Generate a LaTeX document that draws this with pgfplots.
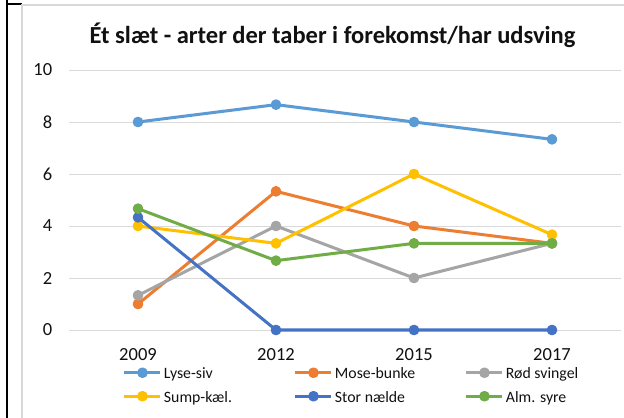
\documentclass[border=0pt]{standalone}
\usepackage{fontspec}
\setmainfont{Carlito}
\usepackage{pgfplots}
\pgfplotsset{compat=1.18}
\definecolor{cLyse}{HTML}{5B9BD5}
\definecolor{cMose}{HTML}{ED7D31}
\definecolor{cRod}{HTML}{A5A5A5}
\definecolor{cSump}{HTML}{FFC000}
\definecolor{cStor}{HTML}{4472C4}
\definecolor{cAlm}{HTML}{70AD47}
\definecolor{gridgray}{HTML}{D9D9D9}
\definecolor{txt}{HTML}{111111}
\begin{document}
\begin{tikzpicture}
\useasboundingbox (0bp,0bp) rectangle (624bp,418bp);
\fill[white] (0bp,0bp) rectangle (624bp,418bp);
\draw[black, line width=1.8bp] (6.9bp,0bp) -- (6.9bp,418bp);
\draw[black, line width=1.6bp] (6bp,414.1bp) -- (21.5bp,414.1bp);
\draw[gridgray, line width=1.7bp] (21.8bp,0bp) -- (21.8bp,413.3bp) -- (624bp,413.3bp);
\node[anchor=base, inner sep=0pt, text=txt] at (332.5bp,374bp) {\fontsize{24.5bp}{28bp}\selectfont\bfseries Ét slæt - arter der taber i forekomst/har udsving};
\begin{axis}[
  at={(69bp,88bp)}, anchor=south west,
  scale only axis, width=552bp, height=260bp,
  xmin=-0.5, xmax=3.5, ymin=0, ymax=10,
  xtick={0,1,2,3}, xticklabels={2009,2012,2015,2017},
  ytick={0,2,4,6,8,10},
  ymajorgrids, grid style={color=gridgray, line width=0.9bp},
  axis line style={draw=none},
  major tick length=0pt, tick style={draw=none},
  /pgf/number format/assume math mode=true,
  tick label style={font=\fontsize{18.5bp}{22bp}\selectfont, text=txt, inner sep=0pt},
  yticklabel style={anchor=east},
  xticklabel style={anchor=north},
  yticklabel shift=16.6bp,
  xticklabel shift=18bp,
  clip=false,
  every axis plot/.append style={line width=3bp, line join=round, mark=*, mark size=3.8bp, mark options={solid}},
  legend image code/.code={\draw[mark repeat=2,mark phase=2] plot coordinates {(0bp,0bp) (18bp,0bp) (36bp,0bp)};},
  legend columns=3,
  legend cell align=left,
  legend style={at={(0.0978,-0.1269)}, anchor=north west, draw=none, fill=none,
    inner sep=0pt, outer sep=0pt, row sep=4bp, column sep=0pt,
    nodes={inner sep=2bp, text=txt},
    font=\fontsize{15.8bp}{20bp}\selectfont},
]
\addplot[color=cLyse] coordinates {(0,8) (1,8.667) (2,8) (3,7.333)};
\addlegendentry{\makebox[128bp][l]{\strut Lyse-siv}}
\addplot[color=cMose] coordinates {(0,1) (1,5.333) (2,4) (3,3.333)};
\addlegendentry{\makebox[128bp][l]{\strut Mose-bunke}}
\addplot[color=cRod] coordinates {(0,1.333) (1,4) (2,2) (3,3.333)};
\addlegendentry{\makebox[128bp][l]{\strut Rød svingel}}
\addplot[color=cSump] coordinates {(0,4) (1,3.333) (2,6) (3,3.667)};
\addlegendentry{\makebox[128bp][l]{\strut Sump-kæl.}}
\addplot[color=cStor] coordinates {(0,4.333) (1,0) (2,0) (3,0)};
\addlegendentry{\makebox[128bp][l]{\strut Stor nælde}}
\addplot[color=cAlm] coordinates {(0,4.667) (1,2.667) (2,3.333) (3,3.333)};
\addlegendentry{\makebox[128bp][l]{\strut Alm. syre}}
\end{axis}
\end{tikzpicture}
\end{document}
